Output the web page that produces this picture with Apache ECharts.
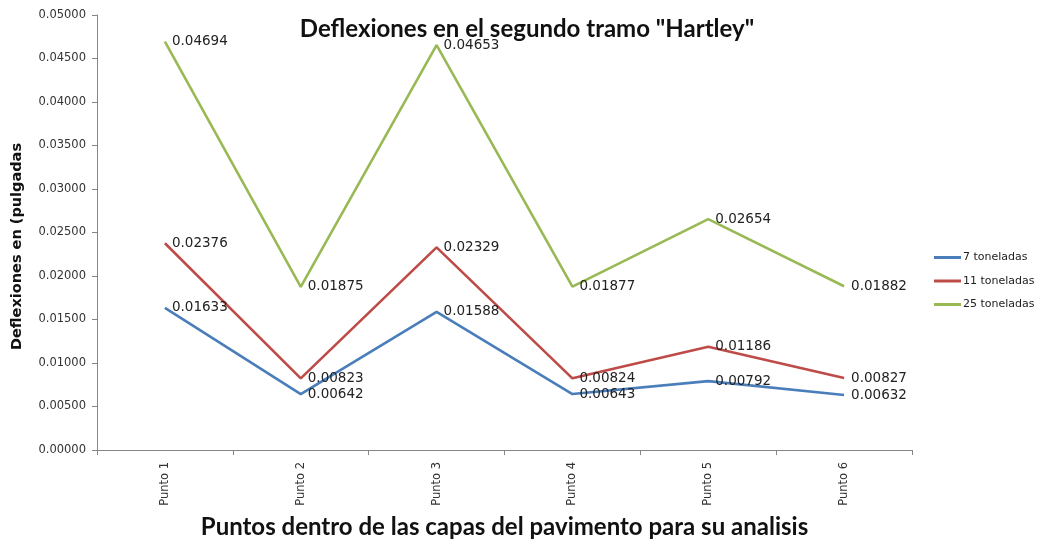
<!DOCTYPE html>
<html>
<head>
<meta charset="utf-8">
<script src="https://cdn.jsdelivr.net/npm/echarts@6/dist/echarts.min.js"></script>
<style>
  html, body { margin: 0; padding: 0; background: #ffffff; overflow: hidden; }
  #chart { width: 1044px; height: 544px; }
</style>
</head>
<body>
<div id="chart"></div>
<script>
// Measurement points along the pavement section
const categories = ['Punto 1', 'Punto 2', 'Punto 3', 'Punto 4', 'Punto 5', 'Punto 6'];

// Deflections (inches) for each axle load
const seriesNames = ['7 toneladas', '11 toneladas', '25 toneladas'];
const deflex7 = [0.01633, 0.00642, 0.01588, 0.00643, 0.00792, 0.00632];
const deflex11 = [0.02376, 0.00823, 0.02329, 0.00824, 0.01186, 0.00827];
const deflex25 = [0.04694, 0.01875, 0.04653, 0.01877, 0.02654, 0.01882];

const colors = ['#4a7ebb', '#be4b48', '#98b954'];

const chart = echarts.init(document.getElementById('chart'), null, { renderer: 'canvas' });

function lineSeries(name, data, color) {
  return {
    name: name,
    type: 'line',
    data: data,
    symbol: 'circle',
    symbolSize: 0,
    showSymbol: true,
    smooth: false,
    lineStyle: { color: color, width: 2.6 },
    itemStyle: { color: color },
    label: {
      show: true,
      position: 'right',
      offset: [0, 2],
      distance: 7,
      color: '#222',
      fontFamily: 'DejaVu Sans',
      fontSize: 13.5,
      formatter: p => p.value.toFixed(5)
    },
    labelLayout: { hideOverlap: false },
    emphasis: { disabled: true }
  };
}

chart.setOption({
  animation: false,
  backgroundColor: '#ffffff',
  title: {
    text: 'Deflexiones en el segundo tramo "Hartley"',
    left: 522,
    textAlign: 'center',
    top: 12,
    textStyle: { fontFamily: 'Lato', fontWeight: 'bold', fontSize: 24, color: '#111' }
  },
  legend: {
    orient: 'vertical',
    left: 929,
    top: 247,
    itemGap: 12.5,
    itemWidth: 27,
    itemHeight: 3,
    icon: 'rect',
    data: seriesNames,
    textStyle: { fontFamily: 'DejaVu Sans', fontSize: 11, color: '#222', padding: [0, 0, 0, -3] }
  },
  grid: { left: 97, width: 815, top: 15, height: 437, containLabel: false },
  xAxis: {
    type: 'category',
    data: categories,
    boundaryGap: true,
    name: 'Puntos dentro de las capas del pavimento para su analisis',
    nameLocation: 'middle',
    nameGap: 65,
    nameTextStyle: { fontFamily: 'Lato', fontWeight: 'bold', fontSize: 24, color: '#111' },
    axisLine: { lineStyle: { color: '#868686', width: 1 } },
    axisTick: { show: true, alignWithLabel: false, length: 5, lineStyle: { color: '#868686' } },
    axisLabel: { rotate: 90, fontFamily: 'DejaVu Sans', fontSize: 11.5, color: '#333', margin: 12 },
    splitLine: { show: false }
  },
  yAxis: {
    type: 'value',
    min: 0,
    max: 0.05,
    interval: 0.005,
    name: 'Deflexiones en (pulgadas',
    nameLocation: 'middle',
    nameGap: 72,
    nameRotate: 90,
    nameTextStyle: { fontFamily: 'DejaVu Sans', fontWeight: 'bold', fontSize: 14.5, color: '#111', padding: [0, 0, 0, -28] },
    axisLine: { show: true, lineStyle: { color: '#868686', width: 1 } },
    axisTick: { show: true, length: 5, lineStyle: { color: '#868686' } },
    axisLabel: { fontFamily: 'DejaVu Sans', fontSize: 11.5, color: '#333', margin: 11, formatter: v => v.toFixed(5) },
    splitLine: { show: false }
  },
  series: [
    lineSeries(seriesNames[0], deflex7, colors[0]),
    lineSeries(seriesNames[1], deflex11, colors[1]),
    lineSeries(seriesNames[2], deflex25, colors[2])
  ]
});
</script>
</body>
</html>
